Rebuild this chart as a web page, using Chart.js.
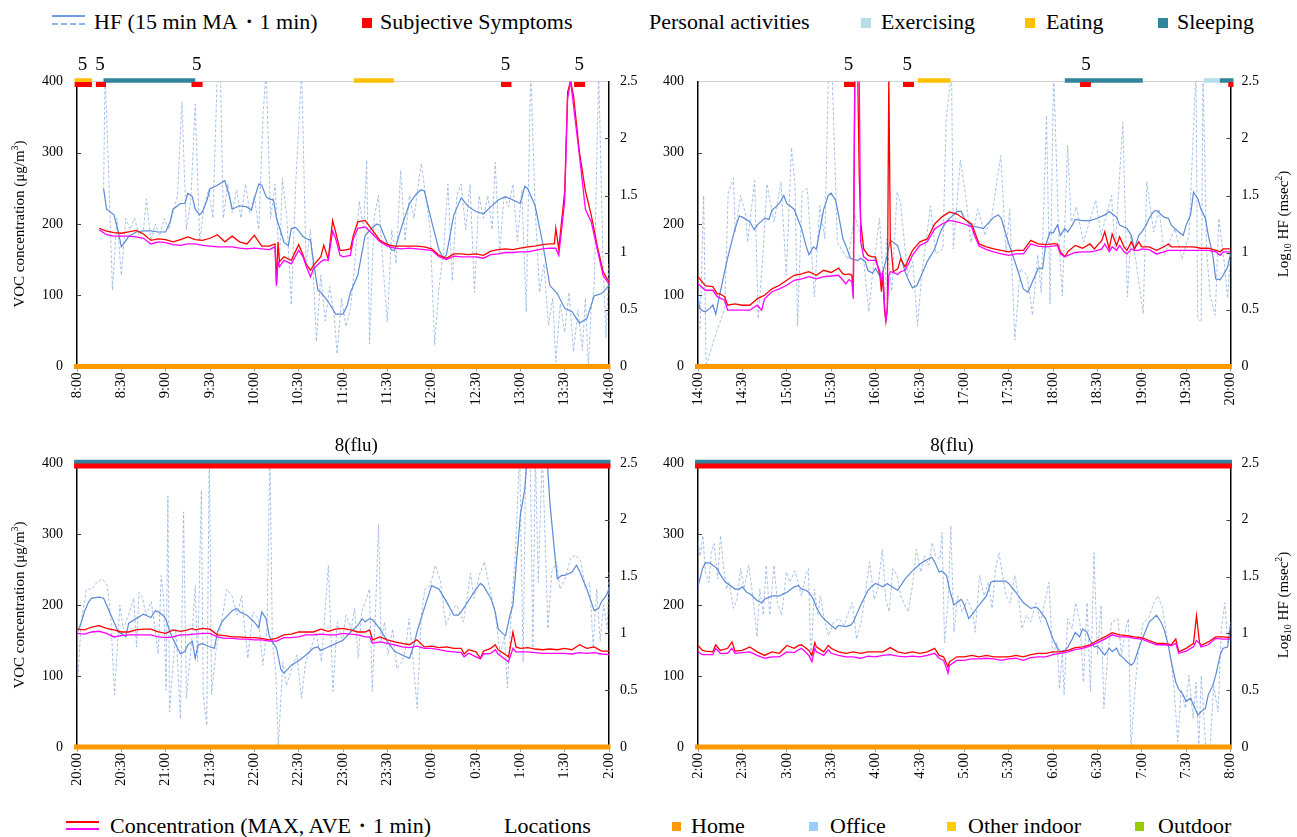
<!DOCTYPE html>
<html><head><meta charset="utf-8">
<script src="https://cdn.jsdelivr.net/npm/chart.js@4.4.0/dist/chart.umd.min.js"></script>
<style>
html,body{margin:0;padding:0;background:#fff;}
body{width:1297px;height:837px;position:relative;overflow:hidden;font-family:'Liberation Serif','Times New Roman',serif;}
.cv{position:absolute;}
.lg{position:absolute;font-size:22px;line-height:22px;color:#000;white-space:nowrap;}
.sq{position:absolute;width:10px;height:10px;}
.ln{position:absolute;width:33px;height:0;}
</style></head><body>
<div class="ln" style="left:52px;top:14.5px;border-top:2px solid #6F9FE3"></div>
<div class="ln" style="left:52px;top:22.5px;border-top:2px dashed #8FB5EA"></div>
<div class="lg" style="left:94px;top:11px">HF (15 min MA・1 min)</div>
<div class="sq" style="left:362px;top:18px;background:#FF0000"></div>
<div class="lg" style="left:380px;top:11px">Subjective Symptoms</div>
<div class="lg" style="left:649px;top:11px">Personal activities</div>
<div class="sq" style="left:861px;top:18px;background:#B7DEE8"></div>
<div class="lg" style="left:881px;top:11px">Exercising</div>
<div class="sq" style="left:1025px;top:18px;background:#FFC000"></div>
<div class="lg" style="left:1046px;top:11px">Eating</div>
<div class="sq" style="left:1158px;top:18px;background:#31849B"></div>
<div class="lg" style="left:1177px;top:11px">Sleeping</div>

<canvas id="cTL" class="cv" width="650" height="380" style="left:0px;top:40px"></canvas>
<canvas id="cTR" class="cv" width="647" height="380" style="left:650px;top:40px"></canvas>
<canvas id="cBL" class="cv" width="650" height="380" style="left:0px;top:420px"></canvas>
<canvas id="cBR" class="cv" width="647" height="380" style="left:650px;top:420px"></canvas>

<div class="ln" style="left:66px;top:820.5px;border-top:2.5px solid #FF0000"></div>
<div class="ln" style="left:66px;top:828px;border-top:2.5px solid #FF00FF"></div>
<div class="lg" style="left:110px;top:814.5px">Concentration (MAX, AVE・1 min)</div>
<div class="lg" style="left:504px;top:814.5px">Locations</div>
<div class="sq" style="left:672px;top:822px;width:9px;height:9px;background:#FF9900"></div>
<div class="lg" style="left:691px;top:814.5px">Home</div>
<div class="sq" style="left:809px;top:822px;width:9px;height:9px;background:#99CCFF"></div>
<div class="lg" style="left:830px;top:814.5px">Office</div>
<div class="sq" style="left:947px;top:822px;width:9px;height:9px;background:#FFCC00"></div>
<div class="lg" style="left:968px;top:814.5px">Other indoor</div>
<div class="sq" style="left:1135px;top:822px;width:9px;height:9px;background:#99CC00"></div>
<div class="lg" style="left:1158px;top:814.5px">Outdoor</div>

<script>
// ---------------- DATA (minutes from panel start) ----------------
const ticksTL = ['8:00','8:30','9:00','9:30','10:00','10:30','11:00','11:30','12:00','12:30','13:00','13:30','14:00'];
const ticksTR = ['14:00','14:30','15:00','15:30','16:00','16:30','17:00','17:30','18:00','18:30','19:00','19:30','20:00'];
const ticksBL = ['20:00','20:30','21:00','21:30','22:00','22:30','23:00','23:30','0:00','0:30','1:00','1:30','2:00'];
const ticksBR = ['2:00','2:30','3:00','3:30','4:00','4:30','5:00','5:30','6:00','6:30','7:00','7:30','8:00'];

// [minute, MAX, AVE]  VOC concentration (µg/m3)
const concTL = [[15,194,192],[20,190,185],[25,188,183],[30,187,183],[35,189,183],[40,191,182],[45,186,180],[50,177,172],[55,179,175],[60,178,174],[65,175,171],[70,178,170],[75,182,172],[80,178,172],[85,177,170],[90,180,169],[95,185,168],[100,175,168],[105,183,168],[110,175,166],[115,172,165],[120,184,166],[125,169,165],[130,169,164],[134,172,168],[135,116,113],[136,175,147],[137,147,140],[140,154,149],[145,149,144],[150,171,163],[153,156,154],[155,144,141],[158,135,126],[160,142,137],[165,154,147],[167,170,150],[170,151,149],[173,205,190],[175,189,180],[178,163,156],[180,163,154],[185,165,156],[187,184,179],[190,203,194],[195,205,196],[200,191,186],[205,177,175],[210,171,169],[215,169,166],[220,169,165],[225,169,166],[230,169,165],[235,168,164],[240,165,163],[245,156,154],[250,152,150],[255,158,155],[260,158,154],[265,157,154],[270,158,154],[275,156,152],[280,162,157],[285,164,158],[290,165,160],[295,164,160],[300,166,161],[305,168,161],[310,169,163],[315,171,165],[320,172,166],[323,172,166],[324,194,166],[326,165,156],[330,245,231],[332,385,376],[334,401,401],[336,380,366],[340,301,296],[344,247,221],[348,212,203],[352,170,165],[356,133,128],[360,119,116]];
const concTR = [[0,126,116],[5,113,107],[10,112,107],[13,102,98],[15,102,96],[18,98,93],[20,86,79],[25,88,79],[30,86,79],[35,86,79],[40,95,86],[43,98,79],[45,100,95],[50,109,105],[55,114,109],[60,121,114],[65,128,121],[70,130,123],[75,133,126],[80,128,123],[85,135,126],[90,132,127],[95,138,128],[98,130,121],[100,129,116],[102,130,122],[104,128,119],[105,105,95],[106,410,404],[107,410,410],[108,410,410],[109,268,410],[110,203,175],[112,165,154],[115,156,149],[118,154,149],[120,154,149],[123,128,133],[124,105,119],[125,128,131],[126,81,91],[127,63,63],[128,81,81],[129,410,128],[130,179,133],[132,133,132],[135,137,129],[137,151,133],[140,140,135],[143,154,147],[145,163,156],[150,175,170],[155,179,175],[160,200,193],[165,210,200],[170,217,205],[175,214,203],[180,207,200],[185,200,196],[187,189,184],[190,172,169],[195,168,164],[200,165,161],[205,163,158],[210,161,156],[215,163,158],[220,163,158],[225,177,172],[230,172,169],[235,171,168],[240,172,169],[243,172,170],[245,161,158],[248,154,154],[250,161,156],[255,170,160],[260,166,161],[265,172,161],[268,165,162],[270,170,163],[273,177,165],[275,189,172],[278,165,161],[280,186,168],[283,170,163],[285,182,170],[288,168,161],[290,163,158],[293,175,165],[295,165,163],[298,175,163],[300,168,165],[305,168,164],[310,163,158],[315,168,161],[318,172,163],[320,168,163],[325,168,163],[330,168,163],[335,168,163],[340,166,163],[345,166,163],[350,163,161],[353,161,156],[355,165,161],[360,165,161]];
const concBL = [[0,166,160],[5,165,159],[10,169,162],[15,171,163],[20,167,160],[25,165,155],[30,162,157],[35,162,158],[40,165,158],[45,166,158],[50,166,158],[55,162,155],[60,160,154],[65,165,155],[70,163,158],[75,165,158],[78,167,159],[80,165,159],[85,167,160],[90,166,160],[95,158,155],[100,157,153],[105,155,153],[110,155,152],[115,154,152],[120,154,151],[125,153,151],[130,151,149],[135,153,149],[140,158,154],[145,159,154],[150,162,155],[155,162,158],[160,162,158],[165,166,159],[170,163,158],[175,166,158],[180,167,160],[185,165,159],[190,162,158],[195,162,155],[198,165,155],[200,151,146],[205,155,148],[210,151,146],[215,148,144],[220,146,141],[225,144,140],[230,151,142],[235,141,139],[240,142,139],[245,140,137],[250,141,135],[255,139,134],[260,139,133],[262,131,127],[265,137,132],[270,134,127],[273,125,124],[275,135,131],[280,139,132],[283,144,137],[285,137,131],[290,130,123],[292,127,120],[295,162,139],[297,141,134],[300,139,134],[305,140,134],[310,138,133],[315,137,132],[320,138,132],[325,137,132],[330,139,132],[335,137,131],[340,144,133],[345,139,132],[350,141,133],[355,135,131],[360,135,130]];
const concBR = [[0,143,134],[3,136,130],[5,135,130],[10,134,130],[12,144,139],[15,136,132],[20,139,132],[23,148,139],[25,135,132],[30,136,133],[35,141,134],[40,134,129],[45,129,125],[50,134,127],[55,132,127],[60,143,134],[65,139,133],[68,143,137],[70,144,139],[75,136,129],[77,129,120],[79,147,139],[80,141,134],[85,134,129],[88,143,137],[90,139,132],[95,134,129],[100,132,127],[105,134,127],[110,132,125],[115,134,128],[120,134,127],[125,134,129],[130,140,130],[135,134,128],[140,132,127],[145,134,128],[150,132,127],[155,134,129],[160,139,132],[163,129,125],[166,127,122],[168,118,111],[169,113,104],[170,120,115],[175,127,122],[180,127,122],[185,129,124],[190,127,124],[195,129,125],[200,127,124],[205,127,122],[210,127,124],[215,129,125],[220,127,122],[225,130,126],[230,132,127],[235,132,127],[240,134,130],[245,134,132],[250,136,134],[255,140,137],[260,141,139],[265,144,142],[270,150,147],[275,155,152],[280,161,158],[285,158,155],[290,157,155],[295,155,153],[300,154,152],[305,150,148],[310,146,144],[315,146,144],[320,144,143],[323,152,146],[325,134,132],[330,139,135],[335,146,141],[337,185,150],[339,148,146],[340,143,141],[345,148,144],[350,155,153],[355,155,152],[360,154,152]];

// [minute, log10 HF]  15-min moving average
const maTL = [[18,1.56],[20,1.38],[25,1.33],[28,1.18],[30,1.05],[35,1.14],[40,1.18],[45,1.19],[50,1.19],[55,1.18],[60,1.18],[63,1.27],[65,1.38],[70,1.43],[73,1.43],[75,1.52],[78,1.49],[80,1.38],[83,1.33],[85,1.36],[88,1.46],[90,1.56],[95,1.59],[100,1.63],[103,1.50],[105,1.38],[110,1.41],[115,1.40],[118,1.37],[120,1.47],[123,1.60],[125,1.59],[128,1.49],[130,1.47],[133,1.46],[135,1.30],[138,1.18],[140,1.09],[143,1.06],[145,1.21],[148,1.22],[150,1.19],[153,1.14],[155,1.12],[158,1.11],[160,0.92],[163,0.67],[165,0.65],[170,0.57],[175,0.46],[180,0.46],[183,0.54],[185,0.65],[190,0.80],[195,1.15],[200,1.22],[203,1.25],[205,1.24],[210,1.08],[213,1.02],[215,1.02],[220,1.24],[225,1.43],[230,1.52],[233,1.55],[235,1.54],[240,1.27],[245,1.02],[248,0.95],[250,0.98],[255,1.33],[260,1.48],[265,1.40],[270,1.36],[275,1.34],[280,1.40],[285,1.46],[290,1.49],[295,1.46],[300,1.43],[303,1.58],[305,1.56],[310,1.41],[315,1.09],[320,0.71],[325,0.64],[330,0.51],[335,0.48],[340,0.38],[345,0.42],[350,0.62],[355,0.64],[360,0.71]];
const maTR = [[0,0.63],[1,0.51],[3,0.49],[5,0.48],[8,0.51],[10,0.54],[12,0.46],[15,0.65],[18,0.83],[20,0.95],[25,1.21],[28,1.32],[30,1.31],[35,1.27],[38,1.20],[40,1.24],[45,1.30],[48,1.29],[50,1.37],[55,1.43],[58,1.50],[60,1.43],[65,1.38],[70,1.21],[73,1.06],[75,0.98],[78,1.05],[80,1.03],[83,1.24],[85,1.38],[88,1.50],[90,1.52],[93,1.46],[95,1.33],[98,1.12],[100,1.06],[103,0.95],[105,0.94],[108,0.93],[110,0.95],[113,0.92],[115,0.84],[118,0.82],[120,0.86],[123,0.79],[125,0.83],[128,0.98],[130,1.11],[133,1.08],[135,1.06],[138,0.92],[140,0.83],[143,0.74],[145,0.69],[148,0.71],[150,0.77],[155,0.92],[160,1.03],[163,1.15],[165,1.21],[168,1.27],[170,1.30],[173,1.33],[175,1.36],[178,1.36],[180,1.30],[185,1.23],[190,1.22],[193,1.21],[195,1.24],[200,1.31],[203,1.33],[205,1.30],[210,1.08],[215,0.89],[220,0.68],[223,0.65],[225,0.71],[230,0.86],[233,0.86],[235,1.06],[238,1.18],[240,1.17],[243,1.24],[245,1.15],[248,1.21],[250,1.18],[253,1.24],[255,1.29],[260,1.28],[265,1.28],[270,1.30],[275,1.33],[278,1.36],[280,1.34],[283,1.31],[285,1.24],[290,1.21],[293,1.15],[295,1.03],[298,1.15],[300,1.18],[303,1.24],[305,1.30],[308,1.36],[310,1.37],[315,1.31],[318,1.30],[320,1.24],[325,1.18],[328,1.15],[330,1.24],[333,1.33],[335,1.53],[338,1.47],[340,1.38],[343,1.30],[345,1.15],[348,0.98],[350,0.77],[353,0.76],[355,0.80],[358,0.87],[360,0.99]];
const maBL = [[0,1.00],[3,1.10],[5,1.19],[8,1.28],[10,1.31],[15,1.32],[18,1.31],[20,1.25],[25,1.10],[28,1.01],[30,1.00],[33,0.97],[35,1.09],[40,1.13],[45,1.17],[50,1.14],[53,1.20],[55,1.19],[58,1.16],[60,1.13],[63,1.01],[65,0.95],[68,0.87],[70,0.82],[73,0.84],[75,0.90],[78,0.93],[80,0.78],[82,0.90],[85,0.91],[90,0.88],[93,0.87],[95,1.01],[98,1.10],[100,1.13],[105,1.20],[108,1.22],[110,1.19],[115,1.16],[120,1.10],[123,1.05],[125,1.19],[128,1.13],[130,0.98],[133,0.91],[135,0.87],[138,0.68],[140,0.65],[143,0.69],[145,0.72],[150,0.76],[155,0.81],[160,0.87],[163,0.88],[165,0.85],[170,0.88],[175,0.91],[180,0.94],[185,1.01],[190,1.07],[193,1.13],[195,1.10],[198,1.13],[200,1.12],[205,1.04],[210,0.93],[215,0.84],[220,0.81],[225,0.78],[228,0.90],[230,1.01],[235,1.22],[240,1.42],[245,1.39],[250,1.28],[255,1.16],[258,1.16],[260,1.19],[265,1.29],[270,1.39],[273,1.44],[275,1.42],[280,1.31],[283,1.19],[285,1.04],[288,1.00],[290,0.98],[293,1.16],[295,1.25],[298,1.72],[300,2.04],[303,2.27],[305,2.6],[310,2.9],[315,2.9],[318,2.56],[320,2.15],[323,1.74],[325,1.48],[328,1.51],[330,1.51],[335,1.54],[338,1.60],[340,1.55],[345,1.39],[350,1.20],[353,1.22],[355,1.28],[358,1.33],[360,1.39]];
const maBR = [[0,1.41],[3,1.57],[5,1.62],[8,1.62],[10,1.60],[13,1.57],[15,1.52],[18,1.46],[20,1.44],[25,1.39],[28,1.39],[30,1.41],[33,1.36],[35,1.35],[40,1.29],[43,1.27],[45,1.30],[50,1.33],[55,1.33],[58,1.35],[60,1.36],[65,1.41],[68,1.42],[70,1.39],[73,1.38],[75,1.36],[78,1.30],[80,1.23],[83,1.16],[85,1.13],[90,1.07],[93,1.04],[95,1.07],[100,1.06],[103,1.07],[105,1.10],[110,1.25],[115,1.38],[118,1.42],[120,1.44],[125,1.41],[128,1.44],[130,1.42],[135,1.38],[140,1.48],[145,1.55],[150,1.61],[155,1.65],[158,1.67],[160,1.63],[163,1.54],[165,1.55],[168,1.51],[170,1.39],[173,1.25],[175,1.27],[178,1.30],[180,1.25],[183,1.13],[185,1.16],[190,1.25],[195,1.33],[198,1.45],[200,1.46],[205,1.46],[208,1.46],[210,1.44],[215,1.36],[220,1.27],[225,1.22],[228,1.23],[230,1.22],[235,1.13],[240,0.95],[243,0.87],[245,0.84],[248,0.85],[250,0.88],[253,0.95],[255,1.01],[258,0.97],[260,1.04],[263,1.01],[265,0.94],[268,0.88],[270,0.89],[273,0.84],[275,0.81],[278,0.87],[280,0.84],[283,0.87],[285,0.81],[288,0.78],[290,0.75],[293,0.72],[295,0.75],[298,0.87],[300,0.94],[305,1.10],[310,1.16],[313,1.10],[315,1.04],[318,0.89],[320,0.75],[323,0.57],[325,0.51],[328,0.46],[330,0.40],[333,0.43],[335,0.37],[338,0.28],[340,0.31],[343,0.34],[345,0.46],[348,0.54],[350,0.63],[353,0.81],[355,0.87],[358,0.88],[360,1.07]];

// [minute, log10 HF]  1-min values
const hfTL = [[18,1.55],[19,2.6],[21,1.85],[24,0.67],[27,1.3],[30,0.8],[33,1.3],[36,1.2],[39,1.3],[42,1.15],[45,1.2],[47,1.47],[50,1.1],[53,1.25],[56,1.15],[59,1.3],[62,1.2],[65,1.35],[68,1.5],[71,2.32],[74,1.2],[77,1.45],[80,2.3],[83,1.1],[86,1.4],[89,1.55],[92,1.3],[95,2.6],[97,2.6],[99,1.3],[102,1.6],[105,1.35],[108,1.55],[111,1.3],[114,1.6],[117,1.35],[120,1.5],[123,1.2],[126,2.23],[128,2.6],[131,1.3],[134,1.6],[137,0.9],[139,1.65],[142,1.3],[145,0.54],[148,1.6],[152,2.6],[155,0.9],[158,1.2],[160,0.8],[162,0.22],[165,0.8],[168,0.4],[171,0.7],[174,0.45],[176,0.11],[179,0.6],[182,0.35],[185,0.5],[188,0.9],[191,1.45],[194,1.2],[196,1.81],[198,0.2],[201,1.3],[204,1.5],[207,0.9],[210,0.39],[213,1.2],[216,0.9],[219,1.72],[222,1.1],[225,1.5],[228,1.3],[231,1.6],[233,1.78],[236,1.5],[239,1.2],[242,0.19],[245,0.7],[248,1.0],[251,1.6],[254,0.75],[257,1.5],[260,1.6],[263,1.2],[266,1.6],[269,0.65],[272,1.5],[275,1.3],[278,1.5],[281,1.2],[283,1.79],[286,1.0],[289,1.5],[292,1.4],[295,1.6],[298,1.1],[301,1.55],[304,0.48],[307,2.6],[310,1.4],[313,0.65],[316,0.9],[319,0.36],[322,0.6],[324,0.04],[327,0.55],[330,0.3],[333,0.65],[336,0.13],[339,0.5],[342,0.14],[344,0.6],[346,0.0],[348,0.5],[350,0.7],[353,2.6],[356,0.9],[358,0.25],[360,0.9]];
const hfTR = [[1.4,0.33],[3.8,1.50],[5.5,0.0],[9.7,0.19],[13.3,0.33],[18.1,0.51],[20.4,1.52],[24,1.65],[25.2,1.18],[28.8,1.50],[32.3,1.33],[33.5,1.09],[38.3,1.63],[40.7,0.42],[44.2,1.03],[46.6,1.60],[51.4,1.27],[56.1,1.62],[59.7,0.80],[63.2,1.92],[65.6,1.59],[67.3,0.36],[70.4,1.53],[73.9,1.56],[78.7,0.61],[82.3,1.41],[85.8,1.12],[88.2,2.6],[90.6,2.6],[94.2,1.09],[101.3,0.94],[106,1.33],[110.8,1.09],[115.5,0.48],[117.9,0.80],[122.7,1.30],[126.2,0.58],[127.4,1.12],[131,0.66],[134.6,1.53],[136.9,1.44],[141.7,0.80],[145.3,0.92],[148.4,0.36],[151.2,0.80],[157.2,1.41],[160.7,0.99],[165.5,1.03],[167.8,2.16],[171.4,2.6],[172.6,1.03],[177.4,1.81],[181,1.49],[184.5,1.09],[189.3,1.38],[194,1.15],[198.8,1.33],[204.7,1.85],[208.3,0.98],[210.7,1.38],[214.2,0.23],[217.8,0.86],[222.5,0.80],[226.1,0.45],[229.7,0.98],[232,0.65],[235.6,2.20],[238,0.55],[240.4,2.6],[243.9,1.15],[246.3,0.62],[249.9,1.94],[252.3,1.27],[255.8,1.40],[260.6,1.09],[265.3,1.30],[268.9,1.46],[272.5,1.15],[279.6,1.50],[282,1.03],[287.2,2.14],[290.3,0.61],[292.7,1.15],[296.2,0.91],[301,0.46],[303.4,1.62],[308.1,1.18],[311.7,1.38],[315.3,0.98],[322.4,1.21],[327.2,0.94],[331.9,1.15],[336.7,2.6],[337.8,0.42],[340.2,0.39],[341.4,2.6],[343.8,1.03],[346.2,0.62],[349.7,0.45],[352.1,1.30],[355.7,0.92],[358,0.60],[360,0.98]];
const hfBL = [[0.5,0.57],[2.8,1.10],[6.4,1.39],[10,1.39],[13.5,1.45],[17.1,1.48],[20.6,1.42],[23,1.10],[25.4,0.46],[29,1.25],[31.3,1.04],[34.9,1.16],[38.4,1.31],[40.3,0.88],[42,1.36],[44.4,1.31],[46.7,1.16],[50.3,1.28],[55,0.82],[57,1.51],[58.6,1.33],[60.3,0.50],[61.5,2.21],[62.6,0.31],[66.9,1.04],[70,0.25],[72.1,2.07],[74,0.43],[77.6,0.93],[80,1.42],[81.6,0.75],[84.2,2.26],[85.4,0.46],[87.8,0.19],[89.5,2.6],[91.1,0.46],[94.2,0.87],[97.8,1.10],[101.3,1.39],[104.9,1.33],[108.4,1.16],[111.3,1.33],[115.6,0.78],[119.1,1.19],[122.7,1.13],[125.8,0.72],[128.6,1.04],[130.5,2.6],[132.2,0.93],[134.5,0.66],[136.2,0.0],[139.3,0.75],[141.7,0.54],[145.2,0.69],[148.8,0.81],[151.9,0.43],[154.7,0.75],[158.3,0.87],[161.8,1.01],[165.4,0.75],[170.1,1.60],[173.2,0.49],[176.1,1.10],[179.6,0.93],[182,1.16],[185.6,1.04],[187.9,1.22],[190.3,0.78],[192.7,1.19],[195.1,1.28],[197.9,1.39],[199.8,0.49],[201.7,1.10],[204.1,1.96],[205.7,0.93],[208.1,1.10],[210.5,0.81],[213.6,1.04],[216.4,0.69],[220,0.75],[222.4,0.87],[224.7,1.13],[227.1,0.81],[230.2,0.34],[233,1.16],[235.4,1.39],[239,1.42],[242.5,1.60],[246.1,1.45],[249.6,1.07],[253.2,1.19],[256.8,1.25],[261.5,1.10],[266.3,1.53],[268.6,1.31],[272.2,1.51],[275.7,1.63],[279.3,1.39],[282.9,1.19],[286.4,0.81],[289.3,0.98],[291.2,0.52],[294.3,1.28],[296.6,1.69],[299.5,2.6],[301.9,0.75],[303.7,2.6],[306.6,2.6],[308.5,0.87],[310.2,2.6],[312.1,1.45],[314.9,2.6],[318.7,1.04],[321.3,1.54],[324.4,1.63],[326.8,1.39],[330.3,1.48],[333.9,1.66],[337.4,1.69],[341,1.63],[344.1,1.39],[346.9,1.45],[349.3,0.87],[351.7,1.39],[354,0.93],[356.4,1.25],[358.8,1.04],[360,1.54]];
const hfBR = [[0.2,1.80],[1.4,1.68],[3.3,1.86],[5,1.54],[7.4,1.45],[9,1.71],[10.9,1.79],[13.3,1.48],[15.2,1.86],[16.9,1.63],[19.3,1.39],[20.9,1.45],[24,1.22],[26.4,1.30],[28.8,1.57],[31.2,1.39],[34.2,1.60],[37.1,1.33],[39.9,0.97],[41.8,1.39],[44.2,1.16],[46.1,1.60],[48.5,1.16],[51.4,1.60],[53.7,1.27],[56.6,1.16],[59.7,1.54],[62,1.45],[65.6,1.55],[69.9,1.33],[72.8,1.51],[74.7,1.57],[76.3,0.75],[78.7,1.39],[81.1,1.16],[82.7,1.33],[85.8,1.10],[88.2,0.98],[91.8,1.10],[95.3,1.13],[98.9,1.07],[101.8,1.19],[104.4,1.27],[107.2,0.95],[110.3,1.10],[113.2,1.36],[116,1.63],[119.1,1.30],[121.5,1.39],[124.6,1.74],[127,1.30],[129.3,1.19],[131.7,1.57],[134.6,1.51],[137,1.33],[139.8,1.25],[142.2,1.19],[145.3,1.45],[147.6,1.74],[150.7,1.54],[153.1,1.68],[156,1.60],[158.3,1.80],[160.7,1.68],[163.6,1.65],[165,1.89],[166.7,0.92],[169,1.27],[170.9,1.95],[173.1,1.01],[175.5,1.33],[178.6,1.19],[182.1,1.30],[185.7,1.19],[187.4,1.01],[190.4,1.51],[193.5,1.33],[196.4,1.45],[198.8,1.22],[201.2,1.57],[203.5,1.71],[205.9,1.51],[208.3,1.33],[211.1,1.27],[214.2,1.51],[216.6,1.33],[219,1.04],[222.1,1.16],[224.9,1.10],[228.5,1.27],[231.6,1.10],[234.4,1.27],[237.3,1.45],[239.7,0.81],[242.8,0.92],[244.4,0.51],[246.3,0.84],[247.5,0.46],[249.9,1.13],[253,1.04],[255.3,1.27],[258.2,1.10],[260.6,0.57],[263,1.27],[265.3,0.49],[267.7,1.71],[270.1,0.81],[272.5,1.25],[274.4,0.34],[277.2,0.84],[279.6,1.10],[283.9,1.13],[286.3,0.81],[289.1,1.04],[291,1.13],[292.7,0.0],[295,0.43],[297.4,0.81],[301,1.10],[304.6,1.13],[308.1,1.27],[311,1.33],[314.1,1.22],[317.2,0.95],[320,0.75],[321.9,0.51],[324.3,0.05],[326.7,0.51],[329.5,0.34],[331.9,0.63],[334.8,0.25],[336.7,0.57],[338.6,0.0],[340.2,0.63],[343.3,0.0],[346.2,0.0],[348.6,0.54],[351.6,0.31],[353.8,1.04],[356.2,1.27],[358,0.92],[360,1.10]];

// event intervals [start minute, end minute]
const homeTL = [[-2,361]], homeTR = [[-2,361]], homeBL = [[-2,361]], homeBR = [[-2,361]];
const symTL = [[-1.6,10.1],[12.8,19.6],[77.5,85],[286.9,294],[336.4,343.8]];
const symTR = [[98.7,106.2],[138.6,146],[258.3,265.6],[358.5,362]];
const symBL = [[-2,361]], symBR = [[-2,361]];
const sleepTL = [[17.9,80]], sleepTR = [[248,300.7],[352.8,362]], sleepBL = [[-2,361]], sleepBR = [[-2,361]];
const eatTL = [[-1.6,10.1],[187.4,214.4]], eatTR = [[148.6,170.7]], eatBL = [], eatBR = [];
const exerTL = [], exerTR = [[342,352.8]], exerBL = [], exerBR = [];
// symptom severity notes [minute, text]
const noteTL = [[3.7,'5'],[15.5,'5'],[81,'5'],[290,'5'],[339.8,'5']];
const noteTR = [[101.8,'5'],[141.5,'5'],[262.3,'5']];
const noteBL = [[189,'8(flu)']];
const noteBR = [[171.6,'8(flu)']];

// ---------------- RENDERING ----------------
const FONT = "'Liberation Serif','Times New Roman',serif";
const COL = {max:'#FF0000', ave:'#FF00FF', ma:'#5B8AD6', hf:'rgba(145,178,226,0.8)', home:'#FF9900',
  sleep:'#31849B', eat:'#FFC000', exer:'#B7DEE8', sym:'#FF0000'};
const ACT_Y = 401.4, SYM_Y = 395.8;

function pts(rows, k){ return rows.map(r => ({x:r[0], y:r[k]})); }
function segs(list, y){ const d=[]; list.forEach(s => { d.push({x:s[0],y:y},{x:s[1],y:y},{x:s[1],y:null}); }); return d; }

function richV(ctx, parts, cx, cy){
  ctx.save(); ctx.translate(cx, cy); ctx.rotate(-Math.PI/2);
  let w = 0;
  parts.forEach(p => { ctx.font = p.s + 'px ' + FONT; p.w = ctx.measureText(p.t).width; w += p.w; });
  let x = -w/2; ctx.fillStyle = '#000'; ctx.textBaseline = 'alphabetic'; ctx.textAlign = 'left';
  parts.forEach(p => { ctx.font = p.s + 'px ' + FONT; ctx.fillText(p.t, x, 5 + (p.dy||0)); x += p.w; });
  ctx.restore();
}

const decor = {
  id:'decor',
  afterDatasetsDraw(chart, args, o){
    const {ctx, chartArea:a, scales} = chart;
    ctx.save(); ctx.strokeStyle = '#404040'; ctx.lineWidth = 1;
    [100,200,300].forEach(v => { const y = Math.round(scales.y.getPixelForValue(v))+0.5; ctx.beginPath(); ctx.moveTo(a.left, y); ctx.lineTo(a.left+4, y); ctx.stroke(); });
    [0.5,1,1.5,2].forEach(v => { const y = Math.round(scales.y2.getPixelForValue(v))+0.5; ctx.beginPath(); ctx.moveTo(a.right-4, y); ctx.lineTo(a.right, y); ctx.stroke(); });
    ctx.fillStyle = '#000'; ctx.textAlign = 'center'; ctx.textBaseline = 'alphabetic'; ctx.font = '19px ' + FONT;
    o.notes.forEach(n => { ctx.fillText(n[1], scales.x.getPixelForValue(n[0]), a.top - o.noteOff); });
    ctx.restore();
    const mid = (a.top + a.bottom)/2;
    if (o.leftTitle) richV(ctx, [{t:'VOC concentration (μg/m',s:15},{t:'3',s:10,dy:-6},{t:')',s:15}], o.titleX, mid);
    if (o.rightTitle) richV(ctx, [{t:'Log',s:15},{t:'10',s:10,dy:3},{t:' HF (msec',s:15},{t:'2',s:10,dy:-6},{t:')',s:15}], o.titleX, mid);
  }
};

function panel(id, g, d){
  const line = (data, color, w, axis, extra) => Object.assign({data, borderColor:color, borderWidth:w, pointRadius:0, yAxisID:axis, tension:0, spanGaps:false}, extra||{});
  const bar = (list, y, color, w) => line(segs(list, y), color, w, 'y', {clip:false, borderCapStyle:'butt'});
  const datasets = [
    bar(d.sym, SYM_Y, COL.sym, 5),
    bar(d.home, 0, COL.home, 5),
    bar(d.sleep, ACT_Y, COL.sleep, 4.5),
    bar(d.eat, ACT_Y, COL.eat, 4.5),
    bar(d.exer, ACT_Y, COL.exer, 4.5),
    line(pts(d.conc,2), COL.ave, 1.3, 'y'),
    line(pts(d.conc,1), COL.max, 1.3, 'y'),
    line(pts(d.ma,1), COL.ma, 1.2, 'y2'),
    line(pts(d.hf,1), COL.hf, 1, 'y2', {borderDash:[3,2]})
  ];
  new Chart(document.getElementById(id), {
    type:'line',
    data:{datasets},
    options:{
      responsive:false, animation:false, devicePixelRatio:1,
      layout:{padding:{top:g.padTop, left:0, right:0, bottom:0}},
      plugins:{legend:{display:false}, tooltip:{enabled:false},
        decor:{notes:d.notes, noteOff:g.noteOff, leftTitle:g.leftTitle, rightTitle:g.rightTitle, titleX:g.titleX}},
      scales:{
        x:{type:'linear', min:0, max:360, afterFit:s => { s.height = g.xh; },
          grid:{drawOnChartArea:false, drawTicks:true, tickLength:5, color:'#a0a0a0'}, border:{display:false},
          ticks:{stepSize:30, autoSkip:false, minRotation:90, maxRotation:90, padding:1, color:'#000',
            font:{family:FONT, size:14.5}, callback:(v) => d.ticks[Math.round(v/30)]}},
        y:{position:'left', min:0, max:400, afterFit:s => { s.width = g.lw; },
          grid:{drawTicks:false, color:(c) => (c.tick && c.tick.value === 400) ? '#d0d0d0' : 'rgba(0,0,0,0)'},
          border:{display:true, color:'#000', width:1.5},
          ticks:{stepSize:100, padding:14, color:'#000', font:{family:FONT, size:14}}},
        y2:{position:'right', min:0, max:2.5, afterFit:s => { s.width = g.rw; },
          grid:{display:false, drawTicks:false}, border:{display:true, color:'#000', width:1.5},
          ticks:{stepSize:0.5, padding:11, color:'#000', font:{family:FONT, size:14},
            callback:(v) => String(Math.round(v*10)/10)}}
      }
    },
    plugins:[decor]
  });
}

panel('cTL', {padTop:41.5, xh:53.5, lw:77, rw:41, noteOff:12, leftTitle:true, rightTitle:false, titleX:19},
  {ticks:ticksTL, conc:concTL, ma:maTL, hf:hfTL, home:homeTL, sym:symTL, sleep:sleepTL, eat:eatTL, exer:exerTL, notes:noteTL});
panel('cTR', {padTop:41.5, xh:53.5, lw:48, rw:66.5, noteOff:12, leftTitle:false, rightTitle:true, titleX:633},
  {ticks:ticksTR, conc:concTR, ma:maTR, hf:hfTR, home:homeTR, sym:symTR, sleep:sleepTR, eat:eatTR, exer:exerTR, notes:noteTR});
panel('cBL', {padTop:43, xh:53, lw:77, rw:41, noteOff:12, leftTitle:true, rightTitle:false, titleX:19},
  {ticks:ticksBL, conc:concBL, ma:maBL, hf:hfBL, home:homeBL, sym:symBL, sleep:sleepBL, eat:eatBL, exer:exerBL, notes:noteBL});
panel('cBR', {padTop:43, xh:53, lw:48, rw:66.5, noteOff:12, leftTitle:false, rightTitle:true, titleX:633},
  {ticks:ticksBR, conc:concBR, ma:maBR, hf:hfBR, home:homeBR, sym:symBR, sleep:sleepBR, eat:eatBR, exer:exerBR, notes:noteBR});
</script>
</body></html>
